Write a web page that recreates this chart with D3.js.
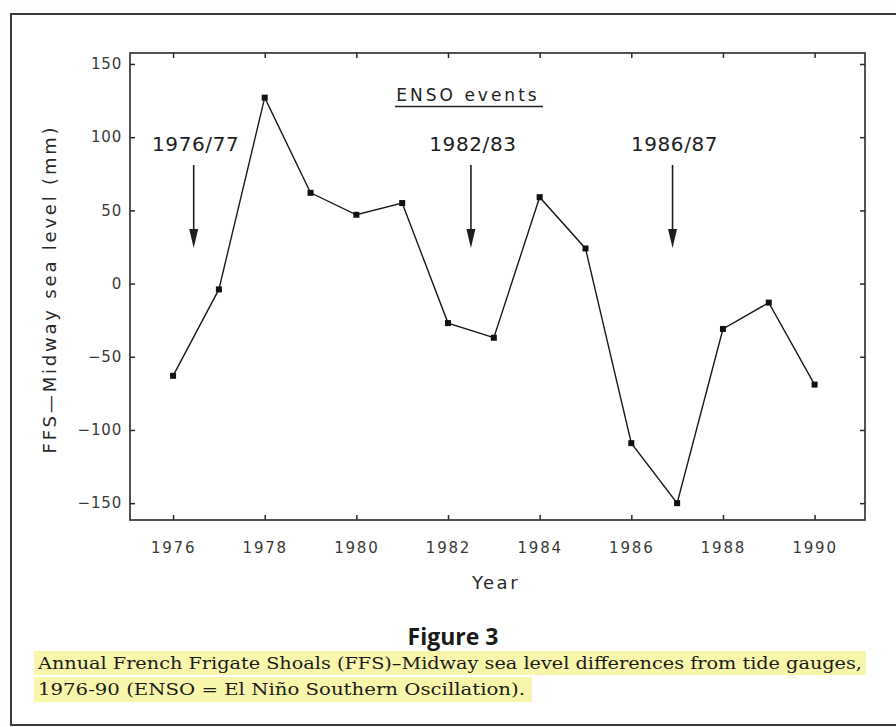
<!DOCTYPE html>
<html>
<head>
<meta charset="utf-8">
<script src="https://cdn.jsdelivr.net/npm/d3@7"></script>
<style>
  html, body { margin: 0; padding: 0; background: #fdfdfb; }
  svg { display: block; }
</style>
</head>
<body>
<div id="chart"></div>
<script>
  var
    years = [1976, 1977, 1978, 1979, 1980, 1981, 1982, 1983, 1984, 1985, 1986, 1987, 1988, 1989, 1990],
    seaLevel = [-63, -4, 127, 62, 47, 55, -27, -37, 59, 24, -109, -150, -31, -13, -69],
    xTicks = [1976, 1978, 1980, 1982, 1984, 1986, 1988, 1990],
    yTicks = [-150, -100, -50, 0, 50, 100, 150],
    ensoLabels = ['1976/77', '1982/83', '1986/87'],
    ensoYears = [1976.45, 1982.5, 1986.9],
    captionLines = [
      'Annual French Frigate Shoals (FFS)\u2013Midway sea level differences from tide gauges,',
      '1976-90 (ENSO = El Ni\u00f1o Southern Oscillation).'
    ],
    captionWidths = [824, 487];

  var
    width = 896,
    height = 727,
    plotLeft = 130,
    plotRight = 865,
    plotTop = 53,
    plotBottom = 520;

  var svg = d3.select('#chart').append('svg')
    .attr('width', width)
    .attr('height', height);

  // outer page frame
  svg.append('rect')
    .attr('x', 11).attr('y', 14)
    .attr('width', 900).attr('height', 711)
    .attr('fill', '#fff')
    .attr('stroke', '#3a3a3a')
    .attr('stroke-width', 2);

  var x = d3.scaleLinear().domain([1975.06, 1991.1]).range([plotLeft, plotRight]),
      y = d3.scaleLinear().domain([-161.5, 157.5]).range([plotBottom, plotTop]);

  var ink = '#2a2a2a';

  // plot box
  svg.append('rect')
    .attr('x', plotLeft).attr('y', plotTop)
    .attr('width', plotRight - plotLeft).attr('height', plotBottom - plotTop)
    .attr('fill', 'none')
    .attr('stroke', ink)
    .attr('stroke-width', 1.6);

  // axes, ticks pointing inward
  var tickFont = "'DejaVu Sans', sans-serif";

  var bottomAxis = svg.append('g')
    .attr('transform', 'translate(0,' + plotBottom + ')')
    .call(d3.axisBottom(x).tickValues(xTicks).tickFormat(d3.format('d')).tickSizeInner(-5).tickSizeOuter(0).tickPadding(22));
  var topAxis = svg.append('g')
    .attr('transform', 'translate(0,' + plotTop + ')')
    .call(d3.axisTop(x).tickValues(xTicks).tickFormat('').tickSizeInner(-5).tickSizeOuter(0));
  var leftAxis = svg.append('g')
    .attr('transform', 'translate(' + plotLeft + ',0)')
    .call(d3.axisLeft(y).tickValues(yTicks).tickSizeInner(-5).tickSizeOuter(0).tickPadding(8));
  var rightAxis = svg.append('g')
    .attr('transform', 'translate(' + plotRight + ',0)')
    .call(d3.axisRight(y).tickValues(yTicks).tickFormat('').tickSizeInner(-5).tickSizeOuter(0));

  [bottomAxis, topAxis, leftAxis, rightAxis].forEach(function(g) {
    g.select('.domain').remove();
    g.selectAll('line').attr('stroke', ink).attr('stroke-width', 1.5);
  });

  bottomAxis.selectAll('text')
    .attr('font-family', tickFont)
    .attr('font-size', 15)
    .attr('letter-spacing', 1.8)
    .attr('fill', '#3a3a3a');

  leftAxis.selectAll('text')
    .attr('font-family', tickFont)
    .attr('font-size', 15)
    .attr('letter-spacing', 0.8)
    .attr('fill', '#3a3a3a');

  // series
  var line = d3.line()
    .x(function(d, i) { return x(years[i]); })
    .y(function(d) { return y(d); });

  svg.append('path')
    .datum(seaLevel)
    .attr('d', line)
    .attr('fill', 'none')
    .attr('stroke', '#1a1a1a')
    .attr('stroke-width', 1.4);

  svg.append('g').selectAll('rect')
    .data(seaLevel)
    .enter().append('rect')
    .attr('x', function(d, i) { return x(years[i]) - 3; })
    .attr('y', function(d) { return y(d) - 3; })
    .attr('width', 6)
    .attr('height', 6)
    .attr('fill', '#111');

  // ENSO annotation
  svg.append('text')
    .attr('x', 468).attr('y', 101)
    .attr('text-anchor', 'middle')
    .attr('font-family', tickFont)
    .attr('font-size', 17)
    .attr('letter-spacing', 3)
    .attr('fill', '#222')
    .text('ENSO events');

  svg.append('line')
    .attr('x1', 395).attr('x2', 543)
    .attr('y1', 106.5).attr('y2', 106.5)
    .attr('stroke', '#222')
    .attr('stroke-width', 1.5);

  var events = svg.append('g').selectAll('g')
    .data(ensoYears)
    .enter().append('g');

  events.append('text')
    .attr('x', function(d) { return x(d) + 2; })
    .attr('y', 151)
    .attr('text-anchor', 'middle')
    .attr('font-family', tickFont)
    .attr('font-size', 20)
    .attr('letter-spacing', 0.6)
    .attr('fill', '#1e1e1e')
    .text(function(d, i) { return ensoLabels[i]; });

  events.append('line')
    .attr('x1', function(d) { return x(d); })
    .attr('x2', function(d) { return x(d); })
    .attr('y1', 165).attr('y2', 236)
    .attr('stroke', '#1e1e1e')
    .attr('stroke-width', 1.6);

  events.append('path')
    .attr('d', function(d) {
      var cx = x(d);
      return 'M' + (cx - 4.5) + ',229L' + (cx + 4.5) + ',229L' + cx + ',248Z';
    })
    .attr('fill', '#1e1e1e');

  // axis titles
  svg.append('text')
    .attr('transform', 'translate(56,289) rotate(-90)')
    .attr('text-anchor', 'middle')
    .attr('font-family', tickFont)
    .attr('font-size', 18)
    .attr('letter-spacing', 2.8)
    .attr('fill', '#2a2a2a')
    .text('FFS\u2014Midway sea level (mm)');

  svg.append('text')
    .attr('x', 496).attr('y', 589)
    .attr('text-anchor', 'middle')
    .attr('font-family', tickFont)
    .attr('font-size', 18)
    .attr('letter-spacing', 2.5)
    .attr('fill', '#2a2a2a')
    .text('Year');

  // figure caption
  svg.append('text')
    .attr('x', 453).attr('y', 645)
    .attr('text-anchor', 'middle')
    .attr('font-family', "'Open Sans', sans-serif")
    .attr('font-weight', 700)
    .attr('font-size', 23)
    .attr('fill', '#1a1a1a')
    .text('Figure 3');

  var highlights = [[34, 651, 832, 24], [34, 677, 498, 25]];
  svg.append('g').selectAll('rect')
    .data(highlights)
    .enter().append('rect')
    .attr('x', function(d) { return d[0]; })
    .attr('y', function(d) { return d[1]; })
    .attr('width', function(d) { return d[2]; })
    .attr('height', function(d) { return d[3]; })
    .attr('fill', '#f7f49c')
    .attr('opacity', 0.85);

  svg.append('g').selectAll('text')
    .data(captionLines)
    .enter().append('text')
    .attr('x', 38)
    .attr('y', function(d, i) { return 669 + i * 26; })
    .attr('font-family', "'DejaVu Serif', serif")
    .attr('font-size', 17)
    .attr('textLength', function(d, i) { return captionWidths[i]; })
    .attr('lengthAdjust', 'spacingAndGlyphs')
    .attr('fill', '#1c1c1c')
    .text(function(d) { return d; });
</script>
</body>
</html>
